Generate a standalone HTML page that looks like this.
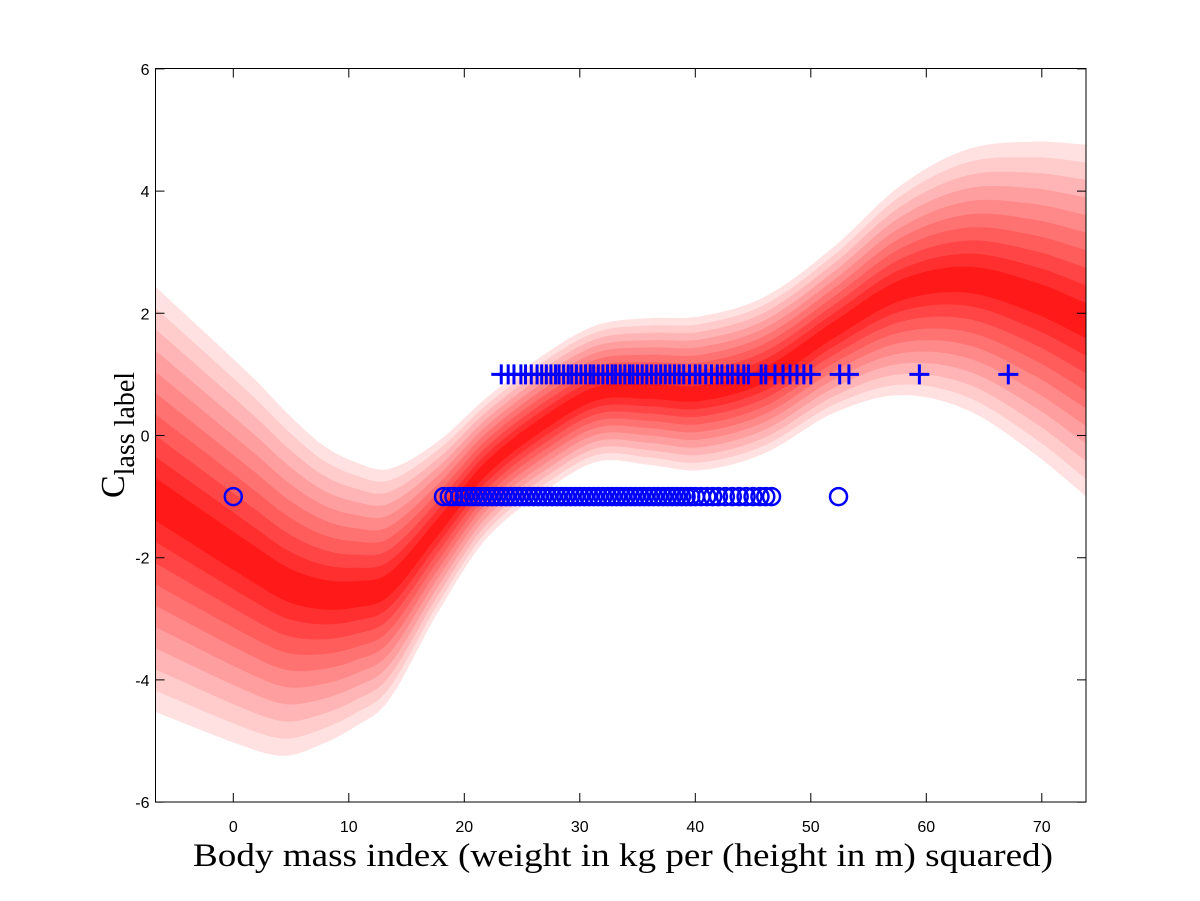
<!DOCTYPE html>
<html><head><meta charset="utf-8"><style>
html,body{margin:0;padding:0;background:#fff;}
svg{display:block;}
</style></head><body>
<svg id="chart" width="1200" height="901" viewBox="0 0 1200 901" xmlns="http://www.w3.org/2000/svg">
<rect x="0" y="0" width="1200" height="901" fill="#fff"/>
<g id="bands"></g>
<g id="marks"></g>
<rect x="155.5" y="68.5" width="930.5" height="733.5" fill="none" stroke="#000" stroke-width="1"/>
<g id="axes" font-family="Liberation Sans, sans-serif" font-size="16" fill="#000"></g>
<text x="193" y="866" textLength="860" lengthAdjust="spacingAndGlyphs" font-family="Liberation Serif, serif" font-size="33">Body mass index (weight in kg per (height in m) squared)</text>
<text transform="translate(124,435) rotate(-90)" text-anchor="middle" font-family="Liberation Serif, serif" font-size="34">C<tspan font-size="28" dy="10">lass label</tspan></text>
</svg>
<script>
const gridX = [-6.7, 1.9, 4.7, 7.7, 10.5, 13.4, 17.7, 22, 27.9, 31.7, 36, 40.4, 46, 52, 57.7, 63.5, 69.3, 73.85];
const meanY = [-1.05, -2.12, -2.44, -2.6, -2.6, -2.45, -1.5, -0.52, 0.33, 0.7, 0.72, 0.69, 0.99, 1.73, 2.37, 2.55, 2.26, 1.88];
const halfW = [3.48, 3.03, 2.8, 2.45, 2.17, 1.9, 1.4, 1.15, 1.12, 1.12, 1.2, 1.26, 1.28, 1.36, 1.71, 2.13, 2.55, 2.88];
const plusX = [23.2,23.8,24.3,24.9,25.3,25.8,26.3,26.7,27.1,27.5,27.9,28.2,28.6,29.0,29.3,29.7,30.1,30.5,30.9,31.2,31.6,32.0,32.4,32.8,33.1,33.5,33.9,34.3,34.6,35.0,35.4,35.8,36.2,36.6,37.0,37.4,37.8,38.2,38.6,39.0,39.5,40.0,40.4,40.9,41.4,41.9,42.3,42.8,43.2,43.7,44.2,44.6,45.7,46.1,46.9,47.6,48.2,48.8,49.4,50.0,52.5,53.3,59.4,67.1];
const plusY = plusX.map(() => 1);
const circX = [0,18.2,18.7,19.1,19.6,20.0,20.4,20.8,21.2,21.6,22.0,22.4,22.8,23.2,23.6,24.0,24.4,24.8,25.2,25.6,26.0,26.4,26.8,27.2,27.6,28.0,28.4,28.8,29.2,29.6,30.0,30.4,30.8,31.2,31.6,32.0,32.4,32.8,33.2,33.6,34.0,34.4,34.8,35.2,35.6,36.0,36.4,36.8,37.2,37.6,38.0,38.4,38.8,39.2,39.6,40.0,40.5,41.0,41.5,42.0,42.6,43.2,43.8,44.4,45.0,45.6,46.1,46.6,52.4];
const circY = circX.map(() => -1);
const xTicks = [0,10,20,30,40,50,60,70];
const yTicks = [-6,-4,-2,0,2,4,6];

const X0=155.5, X1=1086, Y0=68.5, Y1=802;
const xMin=-6.7, xMax=73.85;
const xs = v => 233.3 + v*11.55;
const ys = v => 435.5 - v*61.1;
const NS="http://www.w3.org/2000/svg";

function interp(arr, v){
  const n=gridX.length;
  let i=0;
  while(i<n-2 && v>gridX[i+1]) i++;
  const x0=gridX[i], x1=gridX[i+1];
  const t=Math.max(0,Math.min(1,(v-x0)/(x1-x0)));
  const h=x1-x0;
  const slope=j=>{
    if(j<=0) return (arr[1]-arr[0])/(gridX[1]-gridX[0]);
    if(j>=n-1) return (arr[n-1]-arr[n-2])/(gridX[n-1]-gridX[n-2]);
    return (arr[j+1]-arr[j-1])/(gridX[j+1]-gridX[j-1]);
  };
  const m0=slope(i)*h, m1=slope(i+1)*h;
  const t2=t*t, t3=t2*t;
  return (2*t3-3*t2+1)*arr[i]+(t3-2*t2+t)*m0+(-2*t3+3*t2)*arr[i+1]+(t3-t2)*m1;
}
const samples=[];
for(let v=xMin; v<xMax; v+=0.25) samples.push(v);
samples.push(xMax);

const bands=document.getElementById('bands');
const N=10;
for(let k=N;k>=1;k--){
  const f=k/N;
  const g=Math.round(25+(225-25)*((k-1)/(N-1)));
  let top=[],bot=[];
  samples.forEach(v=>{
    const m=interp(meanY,v), h=interp(halfW,v)*f;
    top.push(xs(v).toFixed(1)+','+Math.max(Y0,ys(m+h)).toFixed(1));
    bot.push(xs(v).toFixed(1)+','+Math.min(Y1,ys(m-h)).toFixed(1));
  });
  const p=document.createElementNS(NS,'polygon');
  p.setAttribute('points',top.concat(bot.reverse()).join(' '));
  p.setAttribute('fill',`rgb(255,${g},${g})`);
  
  
  bands.appendChild(p);
}

const marks=document.getElementById('marks');
plusX.forEach((v,i)=>{
  const x=xs(v), y=ys(plusY[i]);
  const p=document.createElementNS(NS,'path');
  p.setAttribute('d',`M${x-10},${y}H${x+10}M${x},${y-10}V${y+10}`);
  p.setAttribute('stroke','#0000ff');
  p.setAttribute('stroke-width','3');
  
  
  marks.appendChild(p);
});
circX.forEach((v,i)=>{
  const c=document.createElementNS(NS,'circle');
  c.setAttribute('cx',xs(v)); c.setAttribute('cy',ys(circY[i])); c.setAttribute('r','8.5');
  c.setAttribute('fill','none'); c.setAttribute('stroke','#0000ff'); c.setAttribute('stroke-width','2.5');
  
  
  marks.appendChild(c);
});

const axes=document.getElementById('axes');
xTicks.forEach(t=>{
  const x=xs(t);
  const l=document.createElementNS(NS,'path');
  l.setAttribute('d',`M${x},${Y1}V${Y1-9}M${x},${Y0}V${Y0+9}`);
  l.setAttribute('stroke','#000');
  
  
  axes.appendChild(l);
  const tx=document.createElementNS(NS,'text');
  tx.setAttribute('x',x); tx.setAttribute('y',Y1+30); tx.setAttribute('text-anchor','middle');
  tx.textContent=t;
  
  
  axes.appendChild(tx);
});
yTicks.forEach(t=>{
  const y=ys(t);
  const l=document.createElementNS(NS,'path');
  l.setAttribute('d',`M${X0},${y}H${X0+9}M${X1},${y}H${X1-9}`);
  l.setAttribute('stroke','#000');
  
  
  axes.appendChild(l);
  const tx=document.createElementNS(NS,'text');
  tx.setAttribute('x',X0-6); tx.setAttribute('y',y+6); tx.setAttribute('text-anchor','end');
  tx.textContent=t;
  
  
  axes.appendChild(tx);
});
</script>
</body></html>
